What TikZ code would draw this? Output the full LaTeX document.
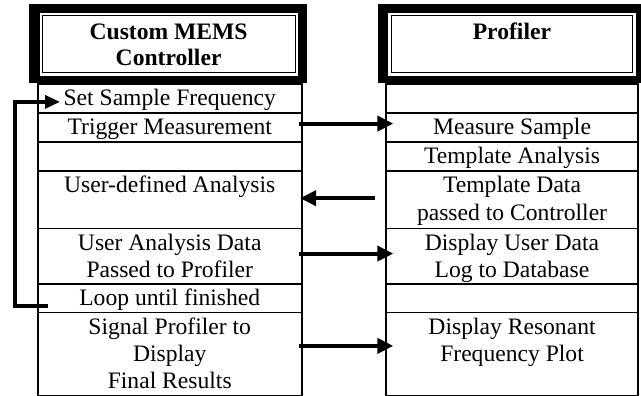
\documentclass[tikz,border=0pt]{standalone}
\usepackage{fontspec}
\setmainfont{Liberation Serif}
\usetikzlibrary{arrows.meta}
\newcommand\cellbox[3]{\parbox[c][#1][t]{#2}{\centering\rule{0pt}{22pt}#3\par}}
\newcommand\hdrbox[3]{\parbox[c][#1][t]{#2}{\centering\bfseries\fontsize{23.6}{25.7}\selectfont\rule{0pt}{24.3pt}#3\par}}
\tikzset{
  cell/.style={draw, line width=1.8pt, inner sep=0pt, anchor=north west, rectangle},
  hdr/.style={draw, line width=1pt, fill=white, inner sep=0pt, anchor=north west, rectangle,
              preaction={draw=white, line width=5.4pt}},
  frame/.style={fill=black},
  arr/.style={line width=4pt, -{Triangle[length=16pt,width=15pt]}},
  looparr/.style={line width=3.3pt, -{Triangle[length=15pt,width=13pt]}},
}
\begin{document}
\begin{tikzpicture}[x=1pt,y=1pt,font=\fontsize{23.6}{27.2}\selectfont]
\useasboundingbox (0,0) rectangle (641,-396);
\clip (0,0) rectangle (641,-396);
% headers
\fill[frame] (29,-4) rectangle (307,-83);
\node[hdr] (lhead) at (41.7,-15) {\hdrbox{57.5pt}{252.8pt}{Custom MEMS\\Controller}};
\fill[frame] (378.3,-4) rectangle (644.3,-83);
\node[hdr] (rhead) at (390.5,-15) {\hdrbox{57.5pt}{241.8pt}{Profiler}};
% left column
\node[cell] (L1) at (36.7,-83)    {\cellbox{29pt}{264.3pt}{Set Sample Frequency}};
\node[cell] (L2) at (36.7,-112)   {\cellbox{29pt}{264.3pt}{Trigger Measurement}};
\node[cell] (L3) at (36.7,-141)   {\cellbox{29pt}{264.3pt}{}};
\node[cell] (L4) at (36.7,-170)   {\cellbox{57.5pt}{264.3pt}{User-defined Analysis}};
\node[cell] (L5) at (36.7,-227.5) {\cellbox{55.5pt}{264.3pt}{User Analysis Data\\Passed to Profiler}};
\node[cell] (L6) at (36.7,-283)   {\cellbox{28.5pt}{264.3pt}{Loop until finished}};
\node[cell] (L7) at (36.7,-311.5) {\cellbox{83.5pt}{264.3pt}{Signal Profiler to\\Display\\Final Results}};
% right column
\node[cell] (R1) at (385,-83)    {\cellbox{29pt}{252.3pt}{}};
\node[cell] (R2) at (385,-112)   {\cellbox{29pt}{252.3pt}{Measure Sample}};
\node[cell] (R3) at (385,-141)   {\cellbox{29pt}{252.3pt}{Template Analysis}};
\node[cell] (R4) at (385,-170)   {\cellbox{57.5pt}{252.3pt}{Template Data\\passed to Controller}};
\node[cell] (R5) at (385,-227.5) {\cellbox{55.5pt}{252.3pt}{Display User Data\\Log to Database}};
\node[cell] (R6) at (385,-283)   {\cellbox{28.5pt}{252.3pt}{}};
\node[cell] (R7) at (385,-311.5) {\cellbox{83.5pt}{252.3pt}{Display Resonant\\Frequency Plot}};
% arrows
\draw[arr] ([xshift=-4pt,yshift=3.8pt]L2.east) -- ([xshift=8.3pt,yshift=3.8pt]R2.west);
\draw[arr] ([xshift=-10pt,yshift=1.45pt]R4.west) -- ([xshift=-2.7pt,yshift=1.45pt]L4.east);
\draw[arr] ([xshift=-4pt,yshift=2.55pt]L5.east) -- ([xshift=8.3pt,yshift=2.55pt]R5.west);
\draw[arr] ([xshift=-4pt,yshift=8.25pt]L7.east) -- ([xshift=8.3pt,yshift=8.25pt]R7.west);
% loop
\draw[looparr] ([xshift=11.3pt,yshift=-7.75pt]L6.west) -- ++(-33,0) |- ([xshift=23.3pt,yshift=-3.5pt]L1.west);
\end{tikzpicture}
\end{document}
